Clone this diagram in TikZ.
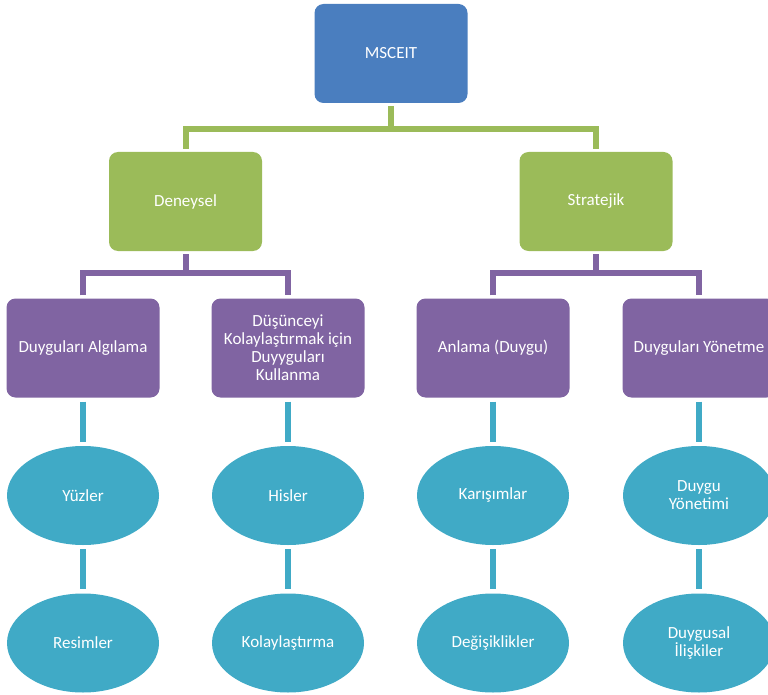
\documentclass[tikz,border=0pt]{standalone}
\usepackage{fontspec}
\setmainfont{Carlito}
\usetikzlibrary{shapes.geometric}
\definecolor{cblue}{HTML}{4A7EBF}
\definecolor{cgreen}{HTML}{9BBB59}
\definecolor{cpurple}{HTML}{8064A2}
\definecolor{cteal}{HTML}{40AAC6}
\tikzset{
  boxbase/.style={rectangle, rounded corners=9pt, minimum width=153pt, minimum height=99pt, inner sep=1pt, text=white, align=center, font=\fontsize{17}{18}\selectfont},
  topbox/.style={boxbase, fill=cblue},
  greenbox/.style={boxbase, fill=cgreen},
  purplebox/.style={boxbase, fill=cpurple},
  tealell/.style={ellipse, fill=cteal, minimum width=152pt, minimum height=99pt, inner sep=0pt, text=white, align=center, font=\fontsize{17}{18}\selectfont},
  gconn/.style={draw=cgreen, line width=6pt, line join=miter},
  pconn/.style={draw=cpurple, line width=6pt, line join=miter},
  tconn/.style={draw=cteal, line width=6pt}
}
\begin{document}
\begin{tikzpicture}[x=1pt,y=-1pt]
\useasboundingbox (0,0) rectangle (768,695);
\clip (0,0) rectangle (768,695);
\node[topbox] (m) at (391,53.5) {MSCEIT};
\node[greenbox] (d) at (185.5,201.5) {Deneysel};
\node[greenbox] (s) at (596,201.5) {Stratejik};
\node[purplebox] (p1) at (83,348) {Duyguları Algılama};
\node[purplebox] (p2) at (288,348) {Düşünceyi\\Kolaylaştırmak için\\Duyyguları\\Kullanma};
\node[purplebox] (p3) at (493,348) {Anlama (Duygu)};
\node[purplebox] (p4) at (699,348) {Duyguları Yönetme};
\node[tealell] (e1) at (83,495.5) {Yüzler};
\node[tealell] (e2) at (288,495.5) {Hisler};
\node[tealell] (e3) at (493,495.5) {Karışımlar};
\node[tealell] (e4) at (699,495.5) {Duygu\\Yönetimi};
\node[tealell] (f1) at (83,643) {Resimler};
\node[tealell] (f2) at (288,643) {Kolaylaştırma};
\node[tealell] (f3) at (493,643) {Değişiklikler};
\node[tealell] (f4) at (699,643) {Duygusal\\İlişkiler};
% green connectors
\coordinate (gbar) at (391,129);
\draw[gconn] ([yshift=-3pt]m.south) -- (gbar);
\draw[gconn] ([yshift=3pt]d.north) |- (gbar) -| ([yshift=3pt]s.north);
% purple connectors
\coordinate (pbarL) at (185.5,273);
\coordinate (pbarR) at (596,273);
\draw[pconn] ([yshift=-3pt]d.south) -- (pbarL);
\draw[pconn] ([yshift=3pt]p1.north) |- (pbarL) -| ([yshift=3pt]p2.north);
\draw[pconn] ([yshift=-3pt]s.south) -- (pbarR);
\draw[pconn] ([yshift=3pt]p3.north) |- (pbarR) -| ([yshift=3pt]p4.north);
% teal connectors
\foreach \i in {1,2,3,4}{
  \draw[tconn] ([yshift=-4pt]p\i.south) -- ([yshift=4pt]e\i.north);
  \draw[tconn] ([yshift=-4pt]e\i.south) -- ([yshift=4pt]f\i.north);
}
\end{tikzpicture}
\end{document}
